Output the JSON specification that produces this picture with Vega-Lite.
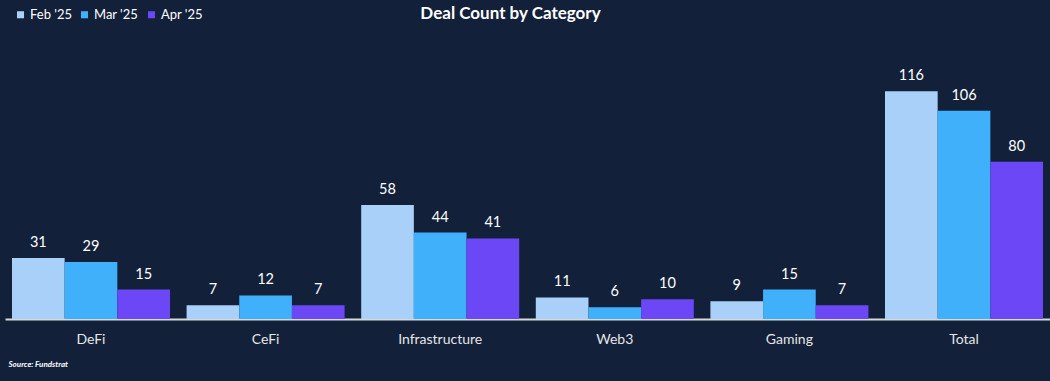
{
  "$schema": "https://vega.github.io/schema/vega-lite/v6.json",
  "autosize": {"type": "none"},
  "width": 1045,
  "height": 275,
  "padding": {"left": 5, "top": 44, "right": 0, "bottom": 62},
  "background": "#12203a",
  "config": {
    "font": "Lato",
    "view": {"stroke": null}
  },
  "title": {
    "text": "Deal Count by Category",
    "fontSize": 17,
    "fontWeight": "bold",
    "color": "#ffffff",
    "anchor": "middle",
    "dx": -17,
    "dy": 32,
    "offset": 0,
    "baseline": "bottom",
    "font": "Lato"
  },
  "data": {
    "values": [
      {"category": "DeFi", "month": "Feb '25", "count": 31},
      {"category": "DeFi", "month": "Mar '25", "count": 29},
      {"category": "DeFi", "month": "Apr '25", "count": 15},
      {"category": "CeFi", "month": "Feb '25", "count": 7},
      {"category": "CeFi", "month": "Mar '25", "count": 12},
      {"category": "CeFi", "month": "Apr '25", "count": 7},
      {"category": "Infrastructure", "month": "Feb '25", "count": 58},
      {"category": "Infrastructure", "month": "Mar '25", "count": 44},
      {"category": "Infrastructure", "month": "Apr '25", "count": 41},
      {"category": "Web3", "month": "Feb '25", "count": 11},
      {"category": "Web3", "month": "Mar '25", "count": 6},
      {"category": "Web3", "month": "Apr '25", "count": 10},
      {"category": "Gaming", "month": "Feb '25", "count": 9},
      {"category": "Gaming", "month": "Mar '25", "count": 15},
      {"category": "Gaming", "month": "Apr '25", "count": 7},
      {"category": "Total", "month": "Feb '25", "count": 116},
      {"category": "Total", "month": "Mar '25", "count": 106},
      {"category": "Total", "month": "Apr '25", "count": 80}
    ]
  },
  "encoding": {
    "x": {
      "field": "category",
      "type": "nominal",
      "sort": ["DeFi", "CeFi", "Infrastructure", "Web3", "Gaming", "Total"],
      "scale": {"paddingInner": 0.095, "paddingOuter": 0.04},
      "axis": {
        "title": "Source: Fundstrat",
        "titleFontSize": 8,
        "titleFontStyle": "italic",
        "titleFontWeight": "bold",
        "titleColor": "#ffffff",
        "titleAnchor": "start",
        "titleAlign": "left",
        "titleBaseline": "alphabetic",
        "titleX": 3,
        "titleY": 47,
        "labelAngle": 0,
        "labelFontSize": 14,
        "labelColor": "#e6e6e6",
        "labelPadding": 13,
        "ticks": false,
        "domainColor": "#d9d9d9",
        "domainWidth": 2
      }
    },
    "xOffset": {
      "field": "month",
      "type": "nominal",
      "sort": ["Feb '25", "Mar '25", "Apr '25"],
      "scale": {"paddingInner": 0, "paddingOuter": 0}
    },
    "y": {
      "field": "count",
      "type": "quantitative",
      "scale": {"domain": [0, 140]},
      "axis": null
    }
  },
  "layer": [
    {
      "mark": {"type": "bar"},
      "encoding": {
        "color": {
          "field": "month",
          "type": "nominal",
          "sort": ["Feb '25", "Mar '25", "Apr '25"],
          "scale": {
            "domain": ["Feb '25", "Mar '25", "Apr '25"],
            "range": ["#a8d0f8", "#40b0fa", "#6b47f5"]
          },
          "legend": {
            "title": null,
            "orient": "none",
            "legendX": 9,
            "legendY": -36,
            "direction": "horizontal",
            "symbolType": "square",
            "symbolSize": 50,
            "symbolStrokeWidth": 0,
            "labelFontSize": 13,
            "labelColor": "#ffffff",
            "labelOffset": 3,
            "columnPadding": 6
          }
        }
      }
    },
    {
      "mark": {"type": "text", "baseline": "bottom", "dy": -8, "fontSize": 14.5, "color": "#ffffff"},
      "encoding": {
        "text": {"field": "count", "type": "quantitative"}
      }
    }
  ]
}
